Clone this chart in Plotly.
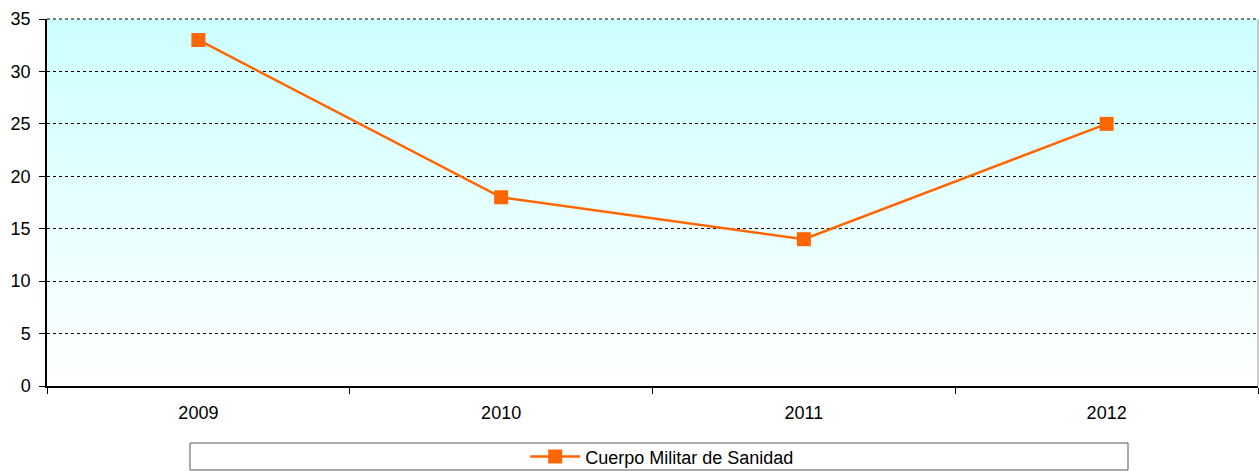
import base64
import plotly.graph_objects as go

# data
years = ["2009", "2010", "2011", "2012"]
values = [33, 18, 14, 25]
series_name = "Cuerpo Militar de Sanidad"

ORANGE = "#FF6600"
FONT = "Liberation Sans, Arial, sans-serif"

# vertical gradient used as plot background (cyan at top fading to white)
svg = ('<svg xmlns="http://www.w3.org/2000/svg" width="100" height="100" preserveAspectRatio="none">'
       '<defs><linearGradient id="g" x1="0" y1="0" x2="0" y2="1">'
       '<stop offset="0" stop-color="#CCFFFF"/><stop offset="1" stop-color="#FFFFFF"/>'
       '</linearGradient></defs><rect width="100" height="100" fill="url(#g)"/></svg>')
bg_src = "data:image/svg+xml;base64," + base64.b64encode(svg.encode()).decode()

fig = go.Figure()
fig.add_trace(go.Scatter(
    x=years, y=values, name=series_name,
    mode="lines+markers",
    line=dict(color=ORANGE, width=2.5),
    marker=dict(symbol="square", size=14, color=ORANGE),
))

fig.update_layout(
    width=1259, height=471,
    margin=dict(l=47, r=1, t=19, b=85, autoexpand=False),
    paper_bgcolor="white", plot_bgcolor="white",
    font=dict(family=FONT, size=18, color="black"),
    showlegend=True,
    legend=dict(orientation="h", x=0.508, xanchor="center", y=-0.193, yanchor="middle",
                bgcolor="rgba(0,0,0,0)", font=dict(size=18),
                itemwidth=50),
    xaxis=dict(type="category", range=[-0.5, 3.5], tickson="boundaries",
               ticks="outside", ticklen=6, tickcolor="black",
               showline=True, linecolor="black", linewidth=1.5,
               showgrid=False, zeroline=False, ticklabelstandoff=10,
               automargin=False),
    yaxis=dict(range=[0, 35], dtick=5, ticks="outside", ticklen=6, tickcolor="black",
               showline=True, linecolor="black", linewidth=1.5,
               showgrid=True, gridcolor="black", griddash="dot", gridwidth=1,
               zeroline=False, ticklabelstandoff=5, automargin=False),
    images=[dict(source=bg_src, xref="paper", yref="paper", x=0, y=1,
                 sizex=1, sizey=1, xanchor="left", yanchor="top",
                 sizing="stretch", layer="below")],
    shapes=[
        # legend box
        dict(type="rect", xref="paper", yref="paper",
             x0=(190 - 47) / 1211, x1=(1128 - 47) / 1211,
             y0=-(470 - 386) / 367, y1=-(443 - 386) / 367,
             line=dict(color="#555555", width=1), fillcolor="rgba(0,0,0,0)"),
        # top border of plot area (dotted like the gridlines)
        dict(type="line", xref="paper", yref="paper", x0=0, x1=1, y0=1, y1=1,
             line=dict(color="black", width=1, dash="dot")),
        # right border of plot area
        dict(type="line", xref="paper", yref="paper", x0=1, x1=1, y0=0, y1=1,
             line=dict(color="#999999", width=1)),
    ],
)

fig.write_html("out.html", config={"displayModeBar": False},
               post_script="document.body.style.margin='0';")
